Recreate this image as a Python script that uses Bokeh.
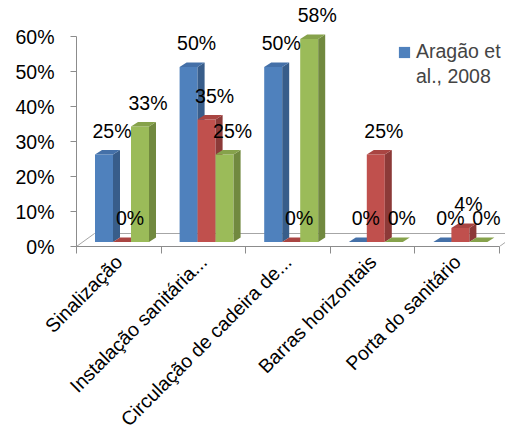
import math
from bokeh.plotting import figure
from bokeh.models import Range1d, FixedTicker, Legend, LegendItem, ColumnDataSource
from bokeh.embed import file_html
from bokeh.resources import INLINE
from bokeh.core.properties import value

# ---- data ----
categories = ["Sinalização", "Instalação sanitária...", "Circulação de cadeira de...",
              "Barras horizontais", "Porta do sanitário"]
legend_lines = ["Aragão et", "al., 2008"]
aragao = [25, 50, 50, 0, 0]
serie2 = [0, 35, 0, 25, 4]
serie3 = [33, 25, 58, 0, 0]
y_ticks = [0, 10, 20, 30, 40, 50, 60]

series = [aragao, serie2, serie3]
front_colors = ["#4F81BD", "#C0504D", "#9BBB59"]
side_colors = ["#385D8A", "#8C3A38", "#71893F"]
top_colors = ["#4470A8", "#A94542", "#86A24B"]

FONT = "Liberation Sans"
W, H = 505, 444
LEFT, RIGHT_EDGE, FLOOR_Y = 76, 505, 246
CAT_PX = (499 - 76) / 5.0
Y_PX = 3.5  # px per percent

n = len(categories)
x_end = (RIGHT_EDGE - LEFT) / CAT_PX
y_end = FLOOR_Y / Y_PX

p = figure(width=W, height=H, x_range=Range1d(0, x_end), y_range=Range1d(0, y_end),
           output_backend="svg", toolbar_location=None,
           min_border_left=LEFT, min_border_right=0, min_border_top=0,
           min_border_bottom=H - FLOOR_Y)
p.outline_line_color = None
p.xgrid.visible = False
p.ygrid.visible = False
p.background_fill_color = "white"
p.border_fill_color = "white"

# 3D geometry (styling, in axis units)
BAR_START = 18.5 / CAT_PX
BAR_W = 18.0 / CAT_PX
DX = 7.0 / CAT_PX
DY = 4.5 / Y_PX
BASE = 4.5 / Y_PX
FLOOR_DX = 18.0 / CAT_PX
FLOOR_DY = 13.0 / Y_PX

# floor
p.patch([0, n, n + FLOOR_DX, FLOOR_DX], [0, 0, FLOOR_DY, FLOOR_DY],
        fill_color=None, line_color="#A6A6A6", line_width=1)

renderers = []
lbl_x, lbl_y, lbl_t = [], [], []
for s, vals in enumerate(series):
    x0 = [i + BAR_START + s * BAR_W for i in range(n)]
    x1 = [a + BAR_W for a in x0]
    top = [BASE + v for v in vals]
    bottom = [BASE] * n
    r = p.quad(left=x0, right=x1, bottom=bottom, top=top,
               fill_color=front_colors[s], line_color=None)
    renderers.append(r)
    side_xs = [[b, b + DX, b + DX, b] for b in x1]
    side_ys = [[BASE, BASE + DY, t + DY, t] for t in top]
    p.patches(side_xs, side_ys, fill_color=side_colors[s], line_color=None)
    top_xs = [[a, b, b + DX, a + DX] for a, b in zip(x0, x1)]
    top_ys = [[t, t, t + DY, t + DY] for t in top]
    p.patches(top_xs, top_ys, fill_color=top_colors[s], line_color=None)
    for a, t, v in zip(x0, top, vals):
        lbl_x.append(a + BAR_W / 2 + 8.0 / CAT_PX)
        lbl_y.append(t + 24.0 / Y_PX)
        lbl_t.append(f"{v}%")

src = ColumnDataSource(dict(x=lbl_x, y=lbl_y, t=lbl_t))
p.text(x="x", y="y", text="t", source=src, text_align="center", text_baseline="middle",
       text_font=value(FONT), text_font_size="19.5px", text_color="black")

# y axis
ya = p.yaxis[0]
ya.ticker = FixedTicker(ticks=y_ticks)
ya.major_label_overrides = {v: f"{v}%" for v in y_ticks}
ya.bounds = (0, y_ticks[-1])
ya.axis_line_color = "#8C8C8C"
ya.major_tick_line_color = "#8C8C8C"
ya.major_tick_out = 6
ya.major_tick_in = 0
ya.minor_tick_line_color = None
ya.major_label_standoff = 16
ya.major_label_text_font = FONT
ya.major_label_text_font_size = "19.5px"
ya.major_label_text_color = "black"

# x axis
xa = p.xaxis[0]
centers = [i + 0.5 for i in range(n)]
xa.ticker = FixedTicker(ticks=centers, minor_ticks=list(range(n + 1)))
xa.major_label_overrides = {c: cat for c, cat in zip(centers, categories)}
xa.bounds = (0, n)
xa.axis_line_color = "#8C8C8C"
xa.major_tick_line_color = None
xa.minor_tick_line_color = "#8C8C8C"
xa.minor_tick_out = 7
xa.minor_tick_in = 0
xa.major_label_orientation = math.pi / 4
xa.major_label_standoff = 5
xa.major_label_text_font = FONT
xa.major_label_text_font_size = "19.5px"
xa.major_label_text_color = "black"

# legend: second line has an invisible glyph so the square stays beside line one
blank = p.quad(left=[], right=[], bottom=[], top=[], fill_alpha=0, line_alpha=0)
legend = Legend(items=[LegendItem(label=legend_lines[0], renderers=[renderers[0]]),
                       LegendItem(label=legend_lines[1], renderers=[blank])],
                location=(321, 158), border_line_color=None, background_fill_color=None,
                label_text_font=FONT, label_text_font_size="19.5px",
                glyph_width=14, glyph_height=14, padding=0, margin=0, spacing=2,
                label_standoff=5, label_height=22)
p.add_layout(legend)

open("out.html", "w").write(file_html(p, INLINE))
